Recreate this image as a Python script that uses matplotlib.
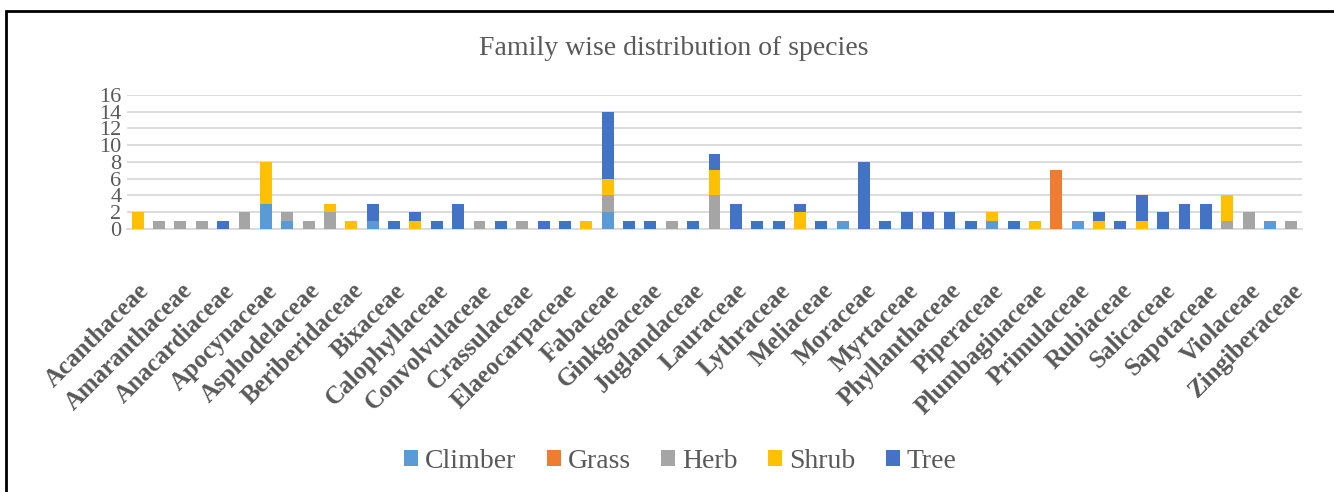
import numpy as np
import matplotlib.pyplot as plt
from matplotlib.patches import Rectangle

# familias (solo se ve una etiqueta de cada dos en el eje)
families = ["Acanthaceae", "Adoxaceae", "Amaranthaceae", "Amaryllidaceae",
            "Anacardiaceae", "Apiaceae", "Apocynaceae", "Araliaceae",
            "Asphodelaceae", "Asteraceae", "Beriberidaceae", "Bignoniaceae",
            "Bixaceae", "Boraginaceae", "Calophyllaceae", "Cannabaceae",
            "Convolvulaceae", "Cornaceae", "Crassulaceae", "Cupressaceae",
            "Elaeocarpaceae", "Euphorbiaceae", "Fabaceae", "Fagaceae",
            "Ginkgoaceae", "Iridaceae", "Juglandaceae", "Lamiaceae",
            "Lauraceae", "Lecythidaceae", "Lythraceae", "Malvaceae",
            "Meliaceae", "Menispermaceae", "Moraceae", "Moringaceae",
            "Myrtaceae", "Oleaceae", "Phyllanthaceae", "Pinaceae",
            "Piperaceae", "Pittosporaceae", "Plumbaginaceae", "Poaceae",
            "Primulaceae", "Rhamnaceae", "Rubiaceae", "Rutaceae",
            "Salicaceae", "Sapindaceae", "Sapotaceae", "Solanaceae",
            "Violaceae", "Vitaceae", "Zingiberaceae"]

climber = [0, 0, 0, 0, 0, 0, 3, 1, 0, 0, 0, 1, 0, 0, 0, 0, 0, 0, 0, 0,
           0, 0, 2, 0, 0, 0, 0, 0, 0, 0, 0, 0, 0, 1, 0, 0, 0, 0, 0, 0,
           1, 0, 0, 0, 1, 0, 0, 0, 0, 0, 0, 0, 0, 1, 0]
grass = [0, 0, 0, 0, 0, 0, 0, 0, 0, 0, 0, 0, 0, 0, 0, 0, 0, 0, 0, 0,
         0, 0, 0, 0, 0, 0, 0, 0, 0, 0, 0, 0, 0, 0, 0, 0, 0, 0, 0, 0,
         0, 0, 0, 7, 0, 0, 0, 0, 0, 0, 0, 0, 0, 0, 0]
herb = [0, 1, 1, 1, 0, 2, 0, 1, 1, 2, 0, 0, 0, 0, 0, 0, 1, 0, 1, 0,
        0, 0, 2, 0, 0, 1, 0, 4, 0, 0, 0, 0, 0, 0, 0, 0, 0, 0, 0, 0,
        0, 0, 0, 0, 0, 0, 0, 0, 0, 0, 0, 1, 2, 0, 1]
shrub = [2, 0, 0, 0, 0, 0, 5, 0, 0, 1, 1, 0, 0, 1, 0, 0, 0, 0, 0, 0,
         0, 1, 2, 0, 0, 0, 0, 3, 0, 0, 0, 2, 0, 0, 0, 0, 0, 0, 0, 0,
         1, 0, 1, 0, 0, 1, 0, 1, 0, 0, 0, 3, 0, 0, 0]
tree = [0, 0, 0, 0, 1, 0, 0, 0, 0, 0, 0, 2, 1, 1, 1, 3, 0, 1, 0, 1,
        1, 0, 8, 1, 1, 0, 1, 2, 3, 1, 1, 1, 1, 0, 8, 1, 2, 2, 2, 1,
        0, 1, 0, 0, 0, 1, 1, 3, 2, 3, 3, 0, 0, 0, 0]

habits = ["Climber", "Grass", "Herb", "Shrub", "Tree"]
colores = ["#5B9BD5", "#ED7D31", "#A5A5A5", "#FFC000", "#4472C4"]

#%%

plt.rcParams['font.family'] = ['Liberation Serif', 'DejaVu Serif']
gris = '#595959'

fig = plt.figure(figsize=(13.34, 4.92), dpi=100)
ax = fig.add_axes([0.0952, 0.5346, 0.8808, 0.2724])

x = np.arange(len(families))
bottom = np.zeros(len(families))
for nombre, vals, col in zip(habits, [climber, grass, herb, shrub, tree], colores):
    vals = np.array(vals, dtype=float)
    ax.bar(x, vals, width=0.56, bottom=bottom, color=col, label=nombre,
           linewidth=0, zorder=3)
    bottom += vals

ax.set_xlim(-0.5, len(families) - 0.5)
ax.set_ylim(0, 16)
ax.set_yticks(np.arange(0, 17, 2))
ax.yaxis.grid(True, color='#D9D9D9', linewidth=1.3, zorder=0)
for s in ['top', 'right', 'left']:
    ax.spines[s].set_visible(False)
ax.spines['bottom'].set_color('#D9D9D9')
ax.spines['bottom'].set_linewidth(1.3)
ax.tick_params(axis='both', length=0, colors=gris)
ax.tick_params(axis='y', labelsize=16, pad=4)

ax.set_xticks(x[::2])
ax.set_xticklabels(families[::2], rotation=45, ha='right',
                   rotation_mode='anchor', fontsize=18, fontweight='bold',
                   color=gris)
ax.tick_params(axis='x', pad=36)

fig.text(0.505, 0.902, "Family wise distribution of species", ha='center',
         va='center', fontsize=20, color=gris)

leg = fig.legend(loc='center', bbox_to_anchor=(0.51, 0.063), ncol=5,
                 frameon=False, fontsize=20, handlelength=0.5,
                 handleheight=0.5, handletextpad=0.25, columnspacing=1.1)
for t in leg.get_texts():
    t.set_color(gris)

# marco del grafico (solo se ven arriba e izquierda)
fig.patches.append(Rectangle((6 / 1334, -0.1), 1.2, 1.1 - 11 / 492,
                             transform=fig.transFigure, fill=False,
                             edgecolor='black', linewidth=2))

fig.savefig('out.png', dpi=100)
